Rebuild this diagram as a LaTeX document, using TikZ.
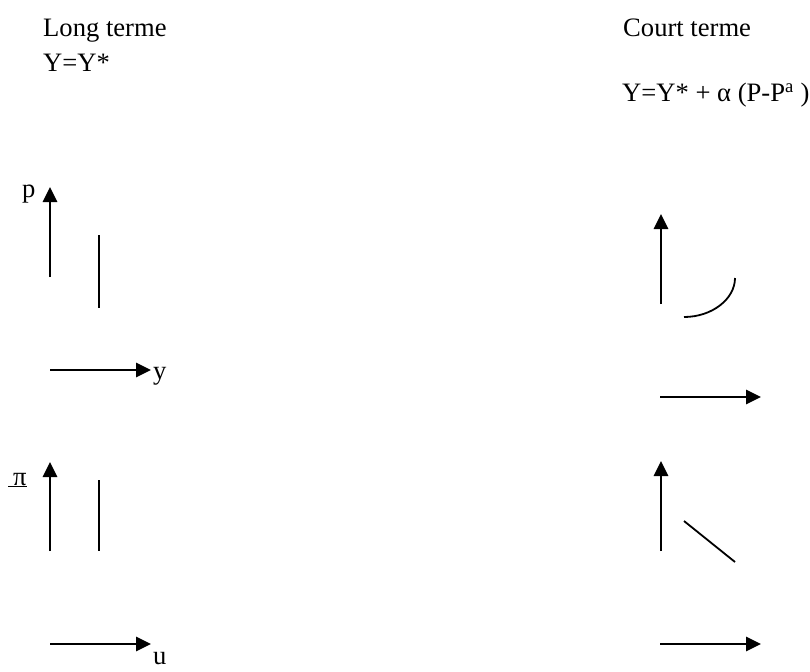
\documentclass[tikz,border=0pt]{standalone}
\usepackage{fontspec}
\setmainfont{Liberation Serif}
\usetikzlibrary{arrows.meta}
\tikzset{
  axis/.style={line width=2.7pt,-{Triangle[length=15pt,width=14pt]}},
  curveline/.style={line width=2.3pt},
  thinline/.style={line width=1.8pt},
  txt/.style={anchor=base west,inner sep=0pt,font=\fontsize{26.6}{30}\selectfont},
}
\begin{document}
\begin{tikzpicture}[x=1pt,y=-1pt]
\useasboundingbox (0,0) rectangle (810,671);
% titles
\node[txt] (lt) at (43,37) {Long terme};
\node[txt] (ly) at (43,72) {Y=Y*};
\node[txt] (ct) at (623,37) {Court terme};
\node[txt] (cy) at (622,102) {Y=Y* + α (P-P\textsuperscript{a} )};
% left top panel
\coordinate (lp0) at (50,277);
\coordinate (lp1) at (50,187);
\draw[axis] (lp0) -- (lp1);
\node[txt] (plab) at (22,197) {p};
\coordinate (lv0) at (99,235);
\coordinate (lv1) at (99,308);
\draw[curveline] (lv0) -- (lv1);
\coordinate (ly0) at (50,370);
\coordinate (ly1) at (151,370);
\draw[axis] (ly0) -- (ly1);
\node[txt] (ylab) at (153,379) {y};
% left bottom panel
\coordinate (lq0) at (50,551);
\coordinate (lq1) at (50,462);
\draw[axis] (lq0) -- (lq1);
\node[txt] (pilab) at (8,485) {\underline{\hspace{5pt}π}};
\coordinate (lw0) at (99,480);
\coordinate (lw1) at (99,551);
\draw[curveline] (lw0) -- (lw1);
\coordinate (lu0) at (50,644);
\coordinate (lu1) at (151,644);
\draw[axis] (lu0) -- (lu1);
\node[txt] (ulab) at (153,664) {u};
% right top panel
\coordinate (rp0) at (661,304);
\coordinate (rp1) at (661,214);
\draw[axis] (rp0) -- (rp1);
\coordinate (rc0) at (684,317);
\coordinate (rc1) at (735,278);
\draw[thinline] (rc0) .. controls (712,317) and (735,299) .. (rc1);
\coordinate (ry0) at (660,397);
\coordinate (ry1) at (761,397);
\draw[axis] (ry0) -- (ry1);
% right bottom panel
\coordinate (rq0) at (661,551);
\coordinate (rq1) at (661,461);
\draw[axis] (rq0) -- (rq1);
\coordinate (rd0) at (684,521);
\coordinate (rd1) at (735,562);
\draw[thinline] (rd0) -- (rd1);
\coordinate (ru0) at (660,644);
\coordinate (ru1) at (761,644);
\draw[axis] (ru0) -- (ru1);
\end{tikzpicture}
\end{document}
